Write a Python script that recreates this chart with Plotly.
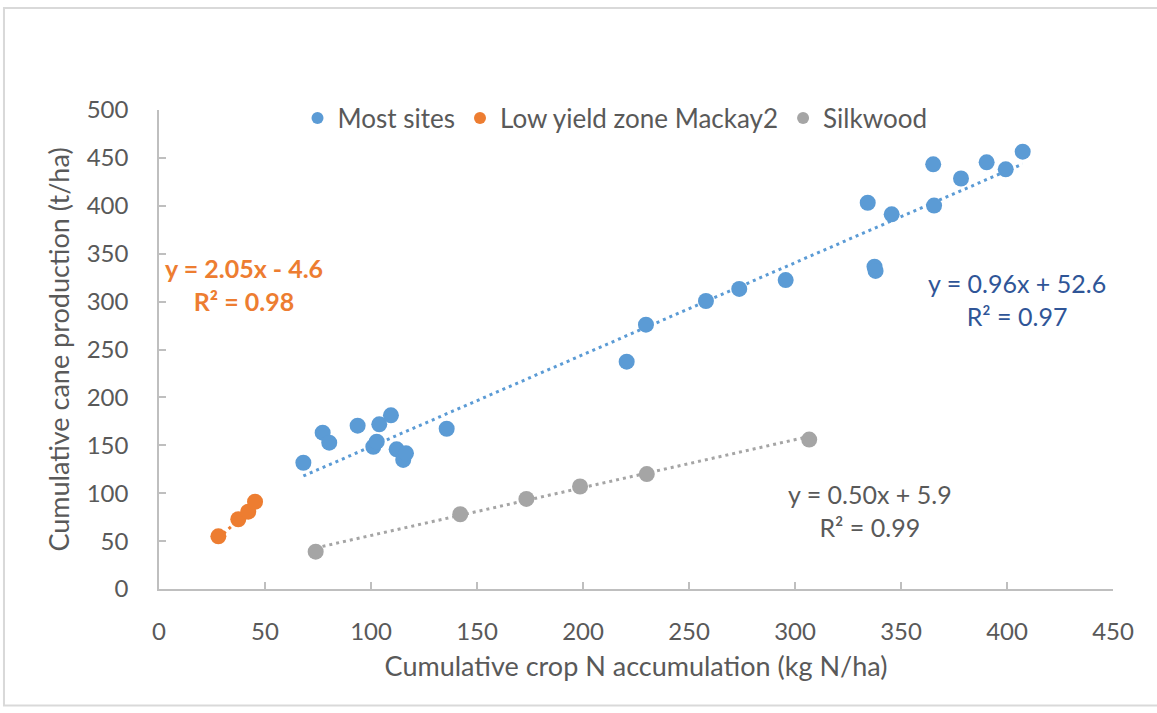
import plotly.graph_objects as go

# ---- data ----
most_x = [68.1, 77.2, 80.3, 93.7, 101.1, 102.7, 103.9, 109.4, 112.1, 115.2, 116.5, 135.7,
          220.6, 229.7, 258.0, 273.7, 295.6, 334.3, 337.5, 338.0, 345.6, 365.2, 365.6,
          378.3, 390.4, 399.4, 407.4]
most_y = [131.8, 163.2, 152.7, 170.5, 148.5, 153.8, 171.9, 181.3, 145.8, 134.7, 141.6, 167.3,
          237.3, 275.9, 300.6, 313.2, 322.5, 403.2, 336.5, 332.0, 391.1, 443.3, 400.2,
          428.5, 445.4, 438.1, 456.5]
low_x = [28.0, 37.4, 42.1, 45.3]
low_y = [55.0, 72.8, 80.7, 91.1]
silk_x = [73.9, 142.1, 173.3, 198.6, 230.1, 306.7]
silk_y = [39.0, 78.0, 94.0, 107.0, 120.0, 156.0]

series_names = ["Most sites", "Low yield zone Mackay2", "Silkwood"]
fit_most = (0.96, 52.6, 0.97)
fit_low = (2.05, -4.6, 0.98)
fit_silk = (0.50, 5.9, 0.99)

x_ticks = list(range(0, 451, 50))
y_ticks = list(range(0, 501, 50))

C_BLUE = "#5B9BD5"
C_ORANGE = "#ED7D31"
C_GRAY = "#A5A5A5"
C_TEXT = "#595959"
FONT = "Lato"

fig = go.Figure()

def trend(xs, fit):
    lo, hi = min(xs), max(xs)
    return [lo, hi], [fit[0] * lo + fit[1], fit[0] * hi + fit[1]]

for xs, fit, col in [(most_x, fit_most, C_BLUE), (low_x, fit_low, C_ORANGE), (silk_x, fit_silk, C_GRAY)]:
    tx, ty = trend(xs, fit)
    fig.add_trace(go.Scatter(x=tx, y=ty, mode="lines", showlegend=False, hoverinfo="skip",
                             line=dict(color=col, width=3, dash="3px,4px")))

for xs, ys, col, name in [(most_x, most_y, C_BLUE, series_names[0]),
                          (low_x, low_y, C_ORANGE, series_names[1]),
                          (silk_x, silk_y, C_GRAY, series_names[2])]:
    fig.add_trace(go.Scatter(x=xs, y=ys, mode="markers", name=name,
                             marker=dict(color=col, size=16, line=dict(width=0))))

def eq_text(fit):
    a, b, r2 = fit
    sign = "+" if b >= 0 else "-"
    return f"y = {a:.2f}x {sign} {abs(b):.1f}<br>R² = {r2:.2f}"

fig.add_annotation(x=40, y=318, xref="x", yref="y", text="<b>" + eq_text(fit_low).replace("<br>", "</b><br><b>") + "</b>",
                   showarrow=False, align="center", font=dict(family=FONT, size=25, color=C_ORANGE))
fig.add_annotation(x=404.5, y=302, xref="x", yref="y", text=eq_text(fit_most),
                   showarrow=False, align="center", font=dict(family=FONT, size=25, color="#2F5597"))
fig.add_annotation(x=335.5, y=82, xref="x", yref="y", text=eq_text(fit_silk),
                   showarrow=False, align="center", font=dict(family=FONT, size=25, color=C_TEXT))

# outer chart border
fig.add_shape(type="rect", xref="paper", yref="paper", x0=-0.1625, x1=1.2, y0=-0.243, y1=1.213,
              line=dict(color="#D9D9D9", width=2), fillcolor="rgba(0,0,0,0)", layer="below")

fig.update_layout(
    width=1157, height=713,
    margin=dict(l=159, r=44, t=110, b=124),
    paper_bgcolor="white", plot_bgcolor="white",
    font=dict(family=FONT, size=24, color=C_TEXT),
    showlegend=True,
    legend=dict(orientation="h", x=0.478, y=0.983, xanchor="center", yanchor="middle",
                font=dict(family=FONT, size=26, color=C_TEXT), itemsizing="constant",
                bgcolor="rgba(0,0,0,0)", tracegroupgap=0, itemwidth=30),
)
fig.update_xaxes(range=[0, 450], tickvals=x_ticks, showgrid=False, zeroline=False,
                 showline=True, linecolor="#BFBFBF", linewidth=1.5,
                 ticks="inside", ticklen=7, tickcolor="#BFBFBF", tickwidth=1.5,
                 ticklabelstandoff=20,
                 title=dict(text="Cumulative crop N accumulation (kg N/ha)", standoff=14,
                            font=dict(family=FONT, size=27, color=C_TEXT)),
                 tickfont=dict(family=FONT, size=24, color=C_TEXT))
fig.update_yaxes(range=[0, 500], tickvals=y_ticks, showgrid=False, zeroline=False,
                 showline=True, linecolor="#BFBFBF", linewidth=1.5,
                 ticks="inside", ticklen=7, tickcolor="#BFBFBF", tickwidth=1.5,
                 ticklabelstandoff=24,
                 title=dict(text="Cumulative cane production (t/ha)", standoff=9,
                            font=dict(family=FONT, size=27, color=C_TEXT)),
                 tickfont=dict(family=FONT, size=24, color=C_TEXT))

fig.write_html("out.html")
